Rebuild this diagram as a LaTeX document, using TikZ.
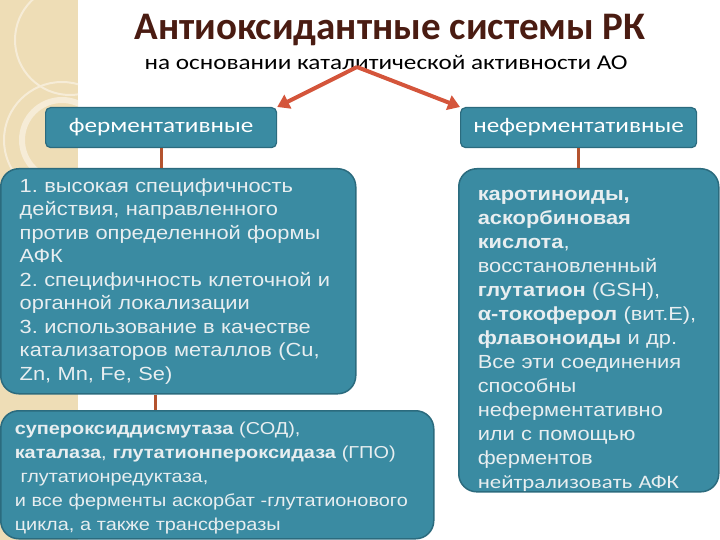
\documentclass[tikz,border=0pt]{standalone}
\usepackage{fontspec}
\setmainfont{Liberation Sans}[FakeStretch=1.15]
\newfontfamily\headfont{Carlito}
\newfontfamily\subfont{Carlito}[FakeStretch=1.2]
\usetikzlibrary{positioning, arrows.meta, calc}

\definecolor{tealbox}{HTML}{3A8BA2}
\definecolor{tealedge}{HTML}{2B6B7E}
\definecolor{boxtext}{HTML}{E8EEF0}
\definecolor{titlebrown}{HTML}{4A1C12}
\definecolor{arrowred}{HTML}{D4553B}
\definecolor{linkbrown}{HTML}{B4532F}
\definecolor{sand}{HTML}{EEDDB6}

\begin{document}
\frenchspacing
\begin{tikzpicture}[
    x=1pt, y=-1pt,
    head/.style={draw=tealedge, fill=tealbox, rounded corners=5pt, line width=1.2pt, minimum height=40pt, minimum width=231pt, font=\subfont\fontsize{21}{24}\selectfont, text=white, anchor=north west, inner sep=0pt},
    panel/.style={draw=tealedge, fill=tealbox, rounded corners=18pt, line width=1.5pt, text=boxtext, align=left, anchor=north west, inner ysep=0pt},
    arr/.style={-{Triangle[length=12pt, width=15pt]}, line width=4pt, arrowred},
    link/.style={line width=3pt, linkbrown},
  ]
    \useasboundingbox (0,0) rectangle (720,540);

    % Side strip
    \fill[sand] (0,0) rectangle (78,540);
    \begin{scope}
      \clip (0,0) rectangle (78,540);
      \draw[white!45!sand, line width=2pt] (70,40) circle (55);
      \draw[white!45!sand, line width=6pt] (62,140) circle (40);
      \draw[white!45!sand, line width=2pt] (62,140) circle (58);
    \end{scope}

    % Title
    \node[font=\headfont\bfseries\fontsize{39}{42}\selectfont, text=titlebrown, anchor=base] (title) at (390,40) {Антиоксидантные системы РК};
    \node[font=\subfont\fontsize{21}{24}\selectfont, anchor=base] (subtitle) at (386,70) {на основании каталитической активности АО};
    \coordinate (fork) at (357,67);

    % Kinds
    \node[head] (enz) at (45,107) {ферментативные};
    \node[head, minimum width=236pt] (nonenz) at (460,107) {неферментативные};

    \draw[arr] (fork) -- (enz.north east);
    \draw[arr] (fork) -- (nonenz.north west);

    % Panels
    \node[panel, minimum width=355pt, minimum height=225pt, inner xsep=19pt, text width=317pt, font=\fontsize{19}{23.5}\selectfont] (enzprops) at (0,168) {%
      1. высокая специфичность\\
      действия, направленного\\
      против определенной формы\\
      АФК\\
      2. специфичность клеточной и\\
      органной локализации\\
      3. использование в качестве\\
      катализаторов металлов (Cu,\\
      Zn, Mn, Fe, Se)};
    \node[panel, minimum width=433pt, minimum height=128pt, inner xsep=14pt, text width=405pt, font=\fontsize{17.3}{24}\selectfont] (enzlist) at (0,410) {%
      \rule{0pt}{19pt}\textbf{супероксиддисмутаза} (СОД),\\
      \textbf{каталаза}, \textbf{глутатионпероксидаза} (ГПО)\\
      \ глутатионредуктаза,\\
      и все ферменты аскорбат -глутатионового\\
      цикла, а также трансферазы};
    \node[panel, minimum width=260pt, minimum height=319pt, inner xsep=19pt, text width=222pt, font=\fontsize{19}{24}\selectfont] (nonenzlist) at (458,168) {%
      \rule{0pt}{32pt}\textbf{каротиноиды,}\\
      \textbf{аскорбиновая}\\
      \textbf{кислота},\\
      восстановленный\\
      \textbf{глутатион} (GSH),\\
      \textbf{α-токоферол} (вит.Е),\\
      \textbf{флавоноиды} и др.\\
      Все эти соединения\\
      способны\\
      неферментативно\\
      или с помощью\\
      ферментов\\
      {\subfont нейтрализовать АФК}};

    % Links
    \draw[link] (enz.south) -- (enz.south |- enzprops.north);
    \draw[link] ([xshift=-6pt]enz.south |- enzprops.south) -- ([xshift=-6pt]enz.south |- enzlist.north);
    \draw[link] (nonenz.south) -- (nonenz.south |- nonenzlist.north);
  \end{tikzpicture}
\end{document}
